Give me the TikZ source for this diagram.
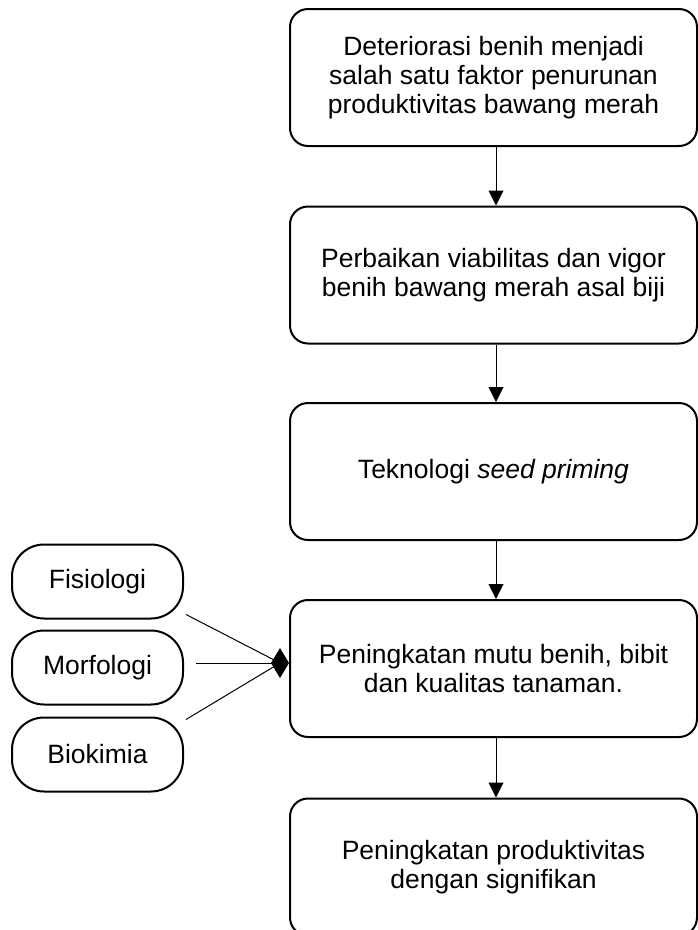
\documentclass[tikz,border=0pt]{standalone}
\usepackage{fontspec}
\setmainfont{Liberation Sans}
\usetikzlibrary{arrows.meta}
\begin{document}
\begin{tikzpicture}[x=1pt,y=-1pt,
  mainbox/.style={draw, line width=2pt, rounded corners=18pt, minimum width=407pt, minimum height=137pt, align=center, inner sep=0pt, font=\fontsize{26.5}{28.8}\selectfont},
  sidebox/.style={draw, line width=2pt, rounded corners=32pt, minimum width=171pt, minimum height=74pt, align=center, inner sep=0pt, font=\fontsize{26.5}{28.8}\selectfont},
  flow/.style={line width=1pt, -{Triangle[length=15pt,width=15pt]}},
  feed/.style={line width=1pt}]
\useasboundingbox (0,0) rectangle (698,930);
\node[mainbox] (b1) at (493.5,77.5) {Deteriorasi benih menjadi\\salah satu faktor penurunan\\produktivitas bawang merah};
\node[mainbox] (b2) at (493.5,275) {Perbaikan viabilitas dan vigor\\benih bawang merah asal biji};
\node[mainbox] (b3) at (493.5,471.5) {Teknologi \textit{seed priming}};
\node[mainbox] (b4) at (493.5,668.5) {Peningkatan mutu benih, bibit\\dan kualitas tanaman.};
\node[mainbox] (b5) at (493.5,867) {Peningkatan produktivitas\\dengan signifikan};
\node[sidebox] (f) at (97.5,581.5) {Fisiologi};
\node[sidebox] (m) at (97.5,667.5) {Morfologi};
\node[sidebox] (bk) at (97.5,754.5) {Biokimia};
\draw[flow] (b1.south -| 496,0) -- (b2.north -| 496,0);
\draw[flow] (b2.south -| 496,0) -- (b3.north -| 496,0);
\draw[flow] (b3.south -| 496,0) -- (b4.north -| 496,0);
\draw[flow] (b4.south -| 496,0) -- (b5.north -| 496,0);
\coordinate (j) at (289,663);
\coordinate (jc) at (280,663);
\draw[feed] ([xshift=2pt,yshift=5pt]f.south east) -- (jc);
\draw[feed] ([xshift=2pt,yshift=-3pt]bk.north east) -- (jc);
\draw[feed, -{Diamond[length=18pt,width=30pt]}] ([xshift=12pt,yshift=4.5pt]m.east) -- (j);
\end{tikzpicture}
\end{document}
